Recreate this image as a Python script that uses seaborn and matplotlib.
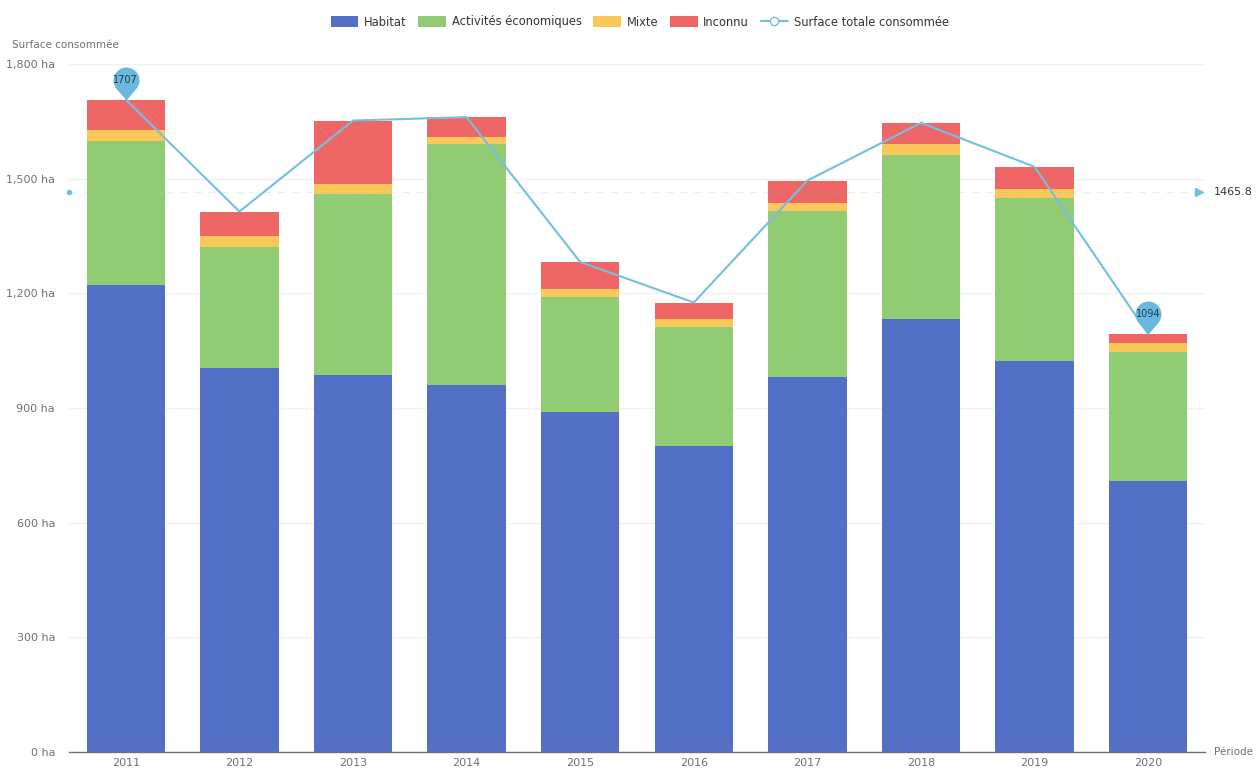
import numpy as np
import pandas as pd
import matplotlib
matplotlib.use("Agg")
import matplotlib.pyplot as plt
from matplotlib.path import Path
from matplotlib.patches import Patch
from matplotlib.lines import Line2D
import seaborn as sns

# ---- data ----
annees = ["2011", "2012", "2013", "2014", "2015", "2016", "2017", "2018", "2019", "2020"]
habitat = [1222, 1005, 986, 959, 889, 801, 980, 1134, 1023, 709]
activites = [377, 317, 475, 632, 301, 310, 436, 428, 427, 338]
mixte = [28, 28, 24, 18, 22, 22, 20, 30, 24, 24]
inconnu = [80, 64, 167, 52, 70, 43, 59, 54, 57, 23]
y_ticks = [0, 300, 600, 900, 1200, 1500, 1800]

series_names = ["Habitat", "Activités économiques", "Mixte", "Inconnu"]
colors = ["#5470c6", "#91cc75", "#fac858", "#ee6666"]
line_color = "#73c0de"
axis_text = "#6e7079"

H = np.array(habitat, float)
A = np.array(activites, float)
M = np.array(mixte, float)
I = np.array(inconnu, float)
total = H + A + M + I
moyenne = total.mean()

sns.set_style("white")
plt.rcParams["font.family"] = ["DejaVu Sans"]

fig = plt.figure(figsize=(12.59, 7.71), dpi=100)
ax = fig.add_axes([69 / 1259, 19 / 771, (1205 - 69) / 1259, (752 - 64) / 771])

# stacked bars drawn as overlapping cumulative bars (top layer first)
cumuls = [H + A + M + I, H + A + M, H + A, H]
layer_colors = [colors[3], colors[2], colors[1], colors[0]]
for vals, c in zip(cumuls, layer_colors):
    df = pd.DataFrame({"annee": annees, "val": vals})
    sns.barplot(data=df, x="annee", y="val", color=c, width=0.69,
                saturation=1, ax=ax, zorder=2, linewidth=0, errorbar=None)

# total line
pos = np.arange(len(annees))
sns.lineplot(x=pos, y=total, ax=ax, color=line_color, linewidth=1.5, zorder=4,
             legend=False)

ax.set_xlim(-0.5, len(annees) - 0.5)
ax.set_ylim(0, 1800)
ax.set_yticks(y_ticks)
ax.set_yticklabels([f"{v:,} ha" for v in y_ticks])
ax.set_xlabel("")
ax.set_ylabel("")
ax.tick_params(axis="y", length=0, labelsize=8, labelcolor=axis_text, pad=10)
ax.tick_params(axis="x", length=0, labelsize=8, labelcolor=axis_text, pad=4)
for v in y_ticks[1:]:
    ax.axhline(v, color="#eef0f4", linewidth=1, zorder=0)
for s in ["top", "right", "left"]:
    ax.spines[s].set_visible(False)
ax.spines["bottom"].set_color(axis_text)
ax.spines["bottom"].set_linewidth(1)
# category boundary ticks
ax.set_xticks(np.arange(-0.5, len(annees) + 0.5, 1), minor=True)
ax.tick_params(axis="x", which="minor", length=4, color=axis_text)

# average mark line
ax.plot([-0.5, len(annees) - 0.5], [moyenne, moyenne], color=line_color,
        linewidth=1, linestyle=(0, (5, 5)), alpha=0.22, zorder=3, clip_on=False)
ax.plot([-0.5], [moyenne], marker="o", markersize=3, color=line_color,
        zorder=5, clip_on=False)
ax.plot([len(annees) - 0.5 - 0.05], [moyenne], marker=">", markersize=6,
        color=line_color, zorder=5, clip_on=False)
ax.annotate(f"{moyenne:.1f}", (len(annees) - 0.5, moyenne), xytext=(6, 0),
            textcoords="offset points", ha="left", va="center", fontsize=8,
            color="#333333", annotation_clip=False)

# pin markers for max / min
d, r = 20.0, 13.0
ang = np.degrees(np.arccos(r / d))
arc = Path.arc(-90 + ang, 270 - ang)
verts = [(0.0, 0.0)] + [tuple(v * r + np.array([0, d])) for v in arc.vertices] + [(0.0, 0.0)]
codes = [Path.MOVETO] + [Path.LINETO if c == Path.MOVETO else c for c in arc.codes] + [Path.CLOSEPOLY]
pin = Path(verts, codes)
pin_size = 2 * (d + r) * 0.72
for idx in [int(np.argmax(total)), int(np.argmin(total))]:
    ax.plot([idx], [total[idx]], marker=pin, markersize=pin_size, color="#6ab9dc",
            markeredgewidth=0, linestyle="none", zorder=6, clip_on=False)
    ax.annotate(f"{int(total[idx])}", (idx, total[idx]), xytext=(0, d * 0.72),
                textcoords="offset points", ha="center", va="center",
                fontsize=7, color="#23395d", zorder=7, annotation_clip=False)

# axis names
fig.text(12 / 1259, 1 - 45 / 771, "Surface consommée", fontsize=7.5,
         color=axis_text, ha="left", va="center")
fig.text(1214 / 1259, 1 - 752 / 771, "Période", fontsize=7.5,
         color=axis_text, ha="left", va="center")

# legend
handles = [Patch(facecolor=c, edgecolor="none") for c in colors]
handles.append(Line2D([0], [0], color=line_color, linewidth=1.5, marker="o",
                      markersize=6, markerfacecolor="white",
                      markeredgecolor=line_color))
labels = series_names + ["Surface totale consommée"]
fig.legend(handles, labels, loc="center", bbox_to_anchor=(640 / 1259, 1 - 22 / 771),
           ncol=5, frameon=False, fontsize=8.3, handlelength=2.4, handleheight=1.0,
           columnspacing=1.0, handletextpad=0.5, labelcolor="#333333")

fig.savefig("out.png", dpi=100, facecolor="white")
